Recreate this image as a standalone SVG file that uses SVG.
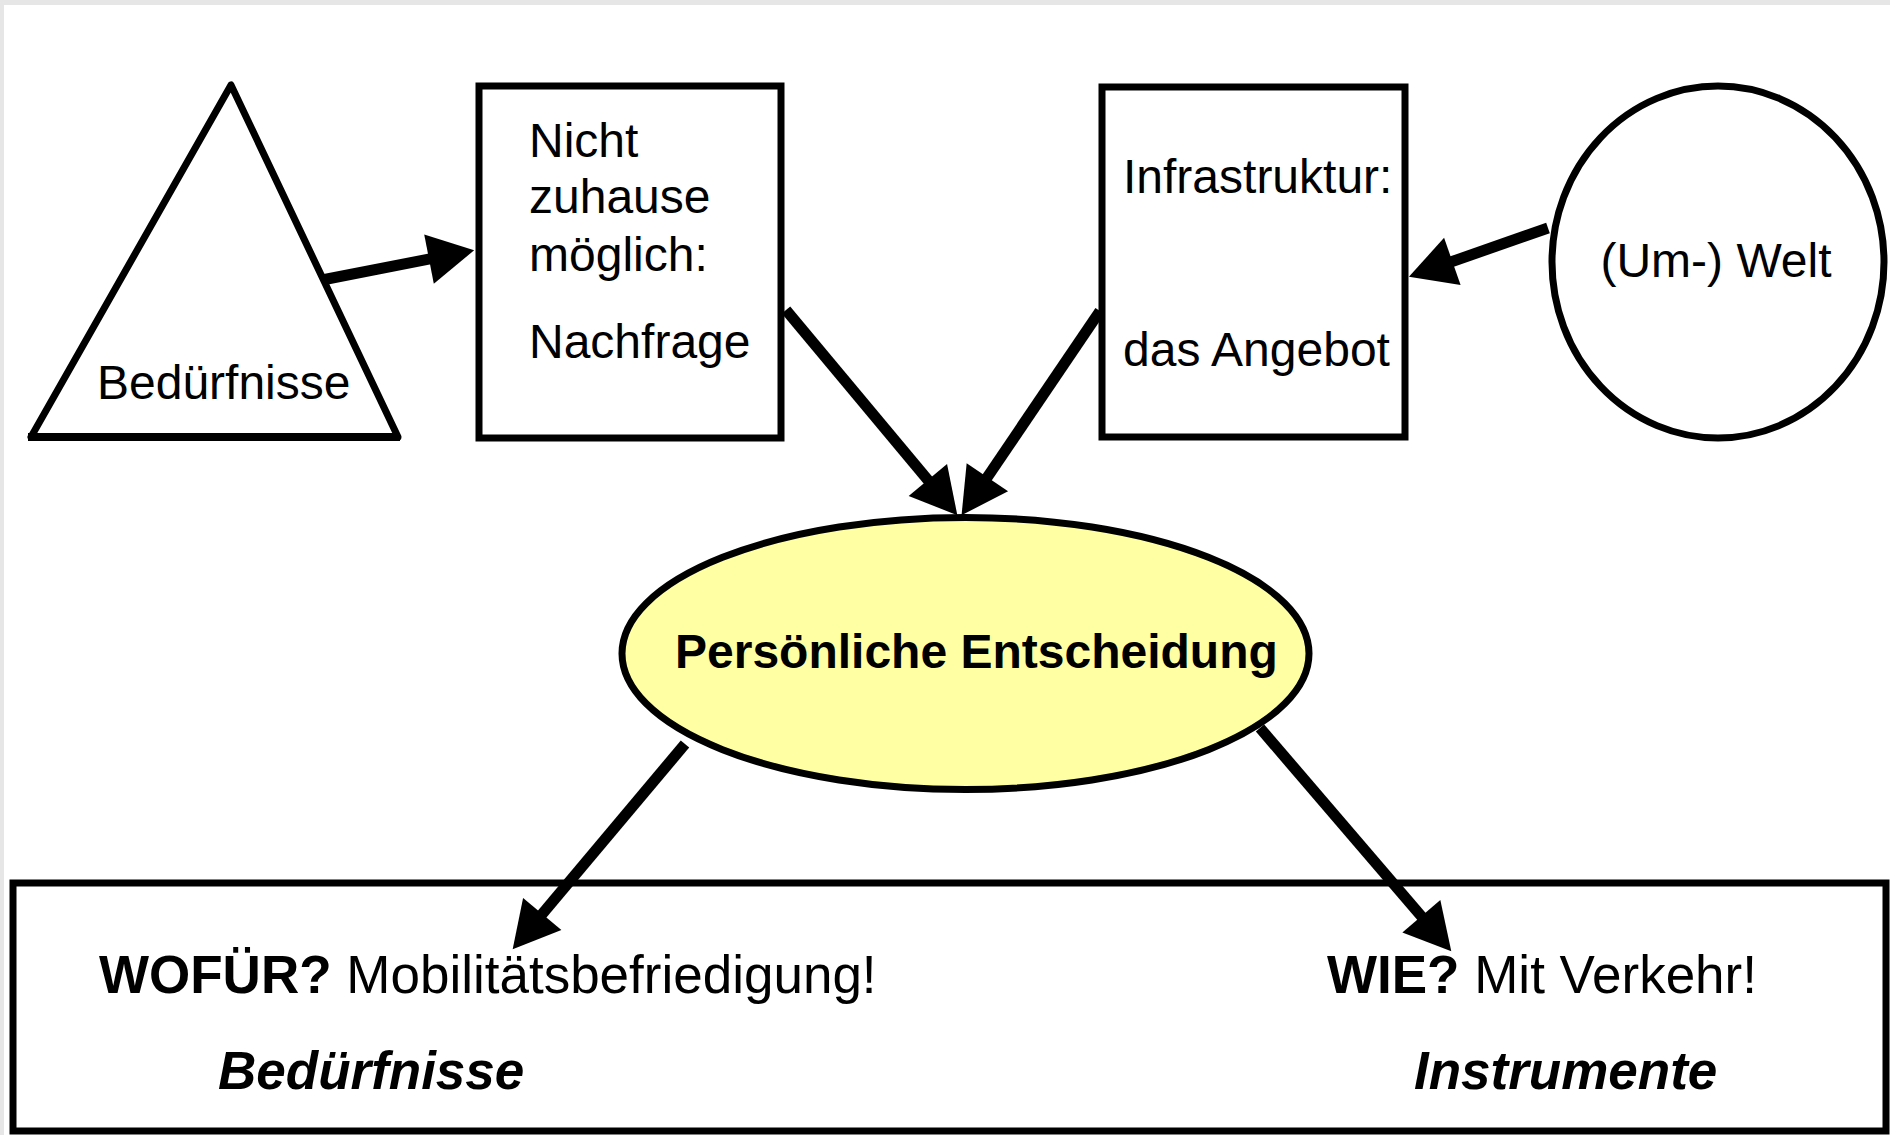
<svg xmlns="http://www.w3.org/2000/svg" width="1890" height="1135" viewBox="0 0 1890 1135">
  <style>
    .shape { fill: #ffffff; stroke: #000000; stroke-width: 7; }
    .t { font-family: "Liberation Sans", Arial, sans-serif; font-size: 48px; fill: #000000; }
    .tb { font-family: "Liberation Sans", Arial, sans-serif; font-size: 53px; fill: #000000; }
    .conn { stroke: #000000; stroke-width: 11; fill: none; marker-end: url(#arrow); }
  </style>
  <defs>
    <marker id="arrow" markerUnits="userSpaceOnUse" markerWidth="48" markerHeight="50" refX="1" refY="25" orient="auto" overflow="visible">
      <path d="M0,0 L46,25 L0,50 Z" fill="#000000"/>
    </marker>
  </defs>
  <rect x="0" y="0" width="1890" height="1135" fill="#e6e6e6"/>
  <rect x="4" y="5" width="1886" height="1130" fill="#ffffff"/>

  <g id="beduerfnisse">
    <polygon class="shape" points="231,85 31,437 398,437" stroke-linejoin="round"/>
    <line x1="28" y1="437" x2="400" y2="437" stroke="#000" stroke-width="8"/>
    <text class="t" x="97" y="399">Bedürfnisse</text>
  </g>

  <g id="nachfrage">
    <rect class="shape" x="479" y="86" width="302" height="352"/>
    <text class="t" x="529" y="157">Nicht</text>
    <text class="t" x="529" y="213">zuhause</text>
    <text class="t" x="529" y="271">möglich:</text>
    <text class="t" x="529" y="358">Nachfrage</text>
  </g>

  <g id="angebot">
    <rect class="shape" x="1102" y="87" width="303" height="350"/>
    <text class="t" x="1123" y="193">Infrastruktur:</text>
    <text class="t" x="1123" y="366">das Angebot</text>
  </g>

  <g id="umwelt">
    <ellipse class="shape" cx="1718" cy="262" rx="166" ry="176"/>
    <text class="t" x="1716" y="277" text-anchor="middle">(Um-) Welt</text>
  </g>

  <g id="entscheidung">
    <ellipse cx="965.5" cy="653.5" rx="343.5" ry="136" fill="#ffffa3" stroke="#000" stroke-width="7"/>
    <text class="t" x="675" y="668" font-weight="bold">Persönliche Entscheidung</text>
  </g>

  <g id="ergebnis">
    <rect class="shape" x="13" y="883" width="1873" height="248" stroke-width="8"/>
    <text class="tb" x="99" y="993"><tspan font-weight="bold">WOFÜR?</tspan> Mobilitätsbefriedigung!</text>
    <text class="tb" x="218" y="1089" font-weight="bold" font-style="italic">Bedürfnisse</text>
    <text class="tb" x="1327" y="993"><tspan font-weight="bold">WIE?</tspan> Mit Verkehr!</text>
    <text class="tb" x="1414" y="1089" font-weight="bold" font-style="italic">Instrumente</text>
  </g>

  <g id="connectors">
    <line class="conn" x1="322" y1="280" x2="430" y2="258.9"/>
    <line class="conn" x1="786" y1="310" x2="928.5" y2="480.7"/>
    <line class="conn" x1="1100" y1="311" x2="986.8" y2="478"/>
    <line class="conn" x1="1548" y1="228" x2="1451.4" y2="261.8"/>
    <line class="conn" x1="685" y1="744" x2="541.6" y2="914.8"/>
    <line class="conn" x1="1260" y1="728" x2="1422" y2="917"/>
  </g>
</svg>
